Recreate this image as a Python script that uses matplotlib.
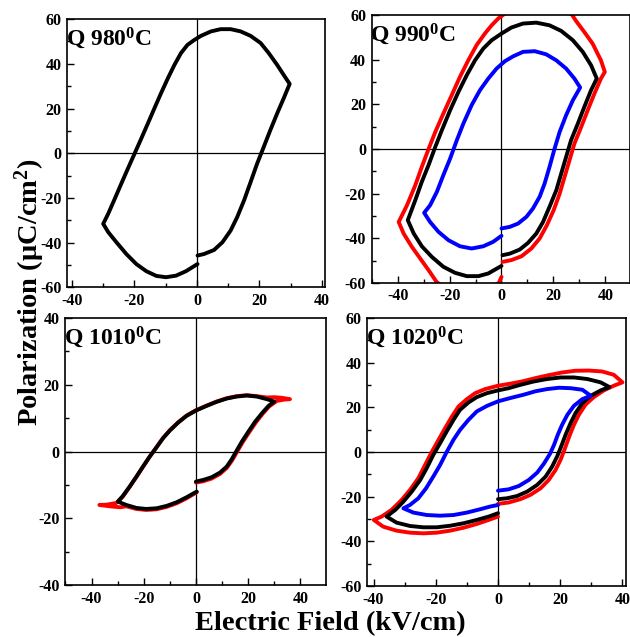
import numpy as np
import matplotlib
matplotlib.use("Agg")
import matplotlib.pyplot as plt
from matplotlib.ticker import MultipleLocator

plt.rcParams['font.family'] = ['Liberation Serif', 'DejaVu Serif']
plt.rcParams['font.weight'] = 'bold'
plt.rcParams['mathtext.fontset'] = 'custom'
plt.rcParams['mathtext.rm'] = 'Liberation Serif:bold'
plt.rcParams['mathtext.it'] = 'Liberation Serif:bold'
plt.rcParams['mathtext.bf'] = 'Liberation Serif:bold'
plt.rcParams['axes.unicode_minus'] = False

# Q 980 C - eine Schleife (E in kV/cm, P in uC/cm2)
e980 = [0.2, 2.3, 5.5, 8.2, 10.8, 12.9, 15.1, 17.2, 19.3, 21.4, 23.5, 25.7, 27.8, 29.7,
        27.8, 25.7, 23, 20.4, 17.2, 14, 10.8, 7.6, 4.5, 1.3, -0.8, -3, -5.1, -7.2, -9.3, -11.5,
        -13.6, -15.7, -17.8, -19.9, -22.1, -24.2, -26.3, -28.4, -30,
        -28.4, -25.8, -22.6, -19.4, -16.2, -13, -9.9, -6.7, -3.5, 0.2]
p980 = [-45.8, -45.1, -43.3, -39.8, -34.6, -28.6, -21.1, -12.9, -4.6, 2.8, 10.3, 17.8, 24.6, 31,
        35, 39.5, 44.8, 49.3, 52.5, 54.5, 55.5, 55.5, 54.5, 52.5, 50.7, 48.5, 44.8, 39.5, 33.5, 26.8,
        20.1, 13.3, 6.6, 0, -6.9, -13.6, -20.4, -27.1, -31.6,
        -35.3, -39.8, -45.1, -49.6, -52.8, -54.9, -55.5, -54.8, -52.8, -49.6]

# Q 990 C - drei Schleifen
e990_k = [0.4, 3.2, 7, 10.2, 13.4, 16, 18.5, 21.1, 23, 24.9, 26.8, 29.4, 31.9, 34.5, 36.7,
          34.5, 31.3, 27.5, 23, 18.5, 13.4, 8.3, 3.8, 0, -3.8, -7, -10.2, -13.4, -16.6, -19.8,
          -23, -25.5, -28.1, -30.7, -33.2, -36.1,
          -33.8, -30.7, -26.8, -22.4, -17.9, -13.4, -8.9, -5.1, 0]
p990_k = [-47.6, -46.9, -45.1, -42.1, -37.9, -32.7, -25.9, -18.5, -11, -3.5, 4, 11.4, 18.9, 26.4, 31.6,
          37.6, 43.6, 48.8, 53, 55.5, 56.7, 56.3, 54.5, 51.8, 48.8, 45.1, 39.8, 33.1, 25.6, 17.4,
          8.4, 1, -7.2, -14.7, -22.9, -31.9,
          -37.9, -43.6, -48.4, -52.8, -55.5, -57, -57, -55.8, -52.4]
e990_r = [0.4, 3.8, 7.7, 11.5, 14.7, 17.5, 20.1, 22.4, 24.3, 26.2, 28.1, 30.7, 33.2, 35.8, 38.3, 39.8,
          38.3, 35.1, 31.9, 28.7, 27, 22, 16, 10, 5, 1, -1.3, -3.8, -6.4, -9.6, -12.8, -16, -19.2,
          -22.4, -25.5, -28.1, -30.7, -33.2, -36.4, -39.6,
          -37.7, -34.5, -31.3, -28.1, -25, -21, -15, -9, -4, -1, 0]
p990_r = [-50.6, -49.8, -48.1, -44.6, -40.1, -34.1, -27.4, -20, -12.5, -5, 2.5, 9.9, 17.4, 24.9, 31.6, 34.6,
          39.8, 47.3, 52.5, 57.5, 60.5, 63, 64.5, 64.5, 63, 60.5, 58.5, 55.5, 51.8, 46.6, 39.8, 32.4, 24.1,
          15.9, 7.7, 0, -8, -16.2, -25.2, -32.7,
          -37.9, -43.9, -49.1, -54.3, -59.6, -63, -65, -64.5, -62, -60, -57.3]
e990_b = [0, 3.2, 6.4, 9.6, 12.1, 14.7, 16.6, 18.5, 20.4, 22.4, 24.9, 27.5, 30.3,
          28.1, 24.9, 21.1, 17.2, 12.8, 8.3, 4.5, 1.3, -1.9, -5.1, -8.3, -11.5, -14.7, -17.2,
          -19.8, -22.4, -24.9, -27.5, -29.8,
          -27.5, -24.3, -20.4, -16, -11.5, -7, -3.2, 0]
p990_b = [-35.6, -34.9, -33.4, -30.4, -26.7, -21.4, -15.5, -8, 0, 7.7, 15.2, 21.9, 27.6,
          31.6, 36.1, 39.8, 42.5, 43.9, 43.6, 41.6, 39.4, 36.1, 31.6, 26.4, 19.7, 11.4, 4,
          -4.3, -11.7, -19.2, -25.2, -28.6,
          -32.7, -37.1, -40.9, -43.6, -44.6, -43.6, -41.6, -38.9]

# Q 1010 C - zwei Schleifen
e1010_k = [0, 2.8, 6, 9.2, 11.8, 13.7, 15.6, 17.6, 20.1, 22.7, 25.3, 27.8, 30,
           27.2, 23.3, 19.5, 15.6, 11.8, 7.9, 4.1, 0, -3.6, -6.8, -10, -12.6, -15.1, -17.7,
           -20.3, -22.8, -25.4, -28, -29.9,
           -26.7, -22.8, -19, -15.1, -11.3, -7.4, -3.6, 0.3]
p1010_k = [-9, -8.5, -7.7, -6.3, -4.5, -2.3, 0.3, 3, 6, 9, 11.5, 13.7, 15,
           15.7, 16.5, 16.8, 16.5, 15.9, 14.9, 13.7, 12.3, 10.7, 8.7, 6.3, 4, 1.3, -1.5,
           -4.5, -7.5, -10.5, -13.3, -15,
           -16, -16.9, -17.2, -17, -16.3, -15.2, -13.7, -12]
e1010_r = [0, 2.8, 6, 9.2, 11.8, 13.8, 15.8, 17.8, 20.3, 22.9, 25.5, 28, 31, 34, 36,
           33, 30, 27.2, 23.3, 19.5, 15.6, 11.8, 7.9, 4.1, 0, -3.6, -6.8, -10, -12.6, -15.1, -17.7,
           -20.3, -22.8, -25.4, -28, -30.5, -34, -37,
           -33, -29, -26.7, -22.8, -19, -15.1, -11.3, -7.4, -3.6, 0.3]
p1010_r = [-9.3, -8.9, -8.1, -6.7, -4.9, -2.7, 0, 2.7, 5.7, 8.7, 11.3, 13.5, 15.2, 15.6, 15.7,
           16.1, 16.3, 16.2, 16.6, 16.9, 16.6, 16, 15, 13.8, 12.4, 10.8, 8.8, 6.4, 4.1, 1.3, -1.5,
           -4.6, -7.6, -10.6, -13.5, -15.4, -15.9, -16,
           -16.4, -16.7, -16.4, -17.2, -17.5, -17.3, -16.6, -15.5, -14, -12.2]

# Q 1020 C - drei Schleifen
e1020_k = [0, 2.9, 6.1, 9.4, 12.6, 15.3, 17.4, 19, 20.3, 21.7, 23.3, 24.9, 27.1, 29.8, 33, 35.8,
           33, 28.7, 24.4, 20.1, 15.8, 11.5, 7.2, 3.4, 0, -3.5, -6.8, -9.5, -12.2, -14.3, -16.5,
           -18.6, -20.8, -22.9, -25, -27.7, -30.4, -33, -35.8,
           -32.6, -28.3, -24, -19.7, -15.4, -11.1, -6.8, -3, 0]
p1020_k = [-21.1, -20.7, -19.7, -17.7, -14.7, -11, -6.5, -2, 2.5, 7.7, 12.9, 17.4, 21.9, 25.2, 27.6, 29.1,
           31.2, 32.7, 33.4, 33.4, 32.7, 31.6, 30.1, 28.6, 27.6, 26.4, 24.6, 22.2, 18.9, 14.4, 9.2,
           4, -1.3, -7.2, -12.5, -17.7, -22.2, -25.9, -28.9,
           -31.6, -33.1, -33.7, -33.7, -33, -31.9, -30.4, -28.9, -27.4]
e1020_r = [0, 3.4, 7.2, 10.4, 13.7, 16.3, 18.5, 20.1, 21.5, 22.9, 24.4, 26, 28.1, 30.8, 34, 37.2, 40,
           37.2, 33.4, 29.1, 24.8, 20.5, 16.2, 12, 7.7, 3.9, 0, -4.1, -7.3, -10, -12.7, -14.8, -17,
           -19.1, -21.3, -23.4, -25.6, -28.3, -31, -34.2, -37.4, -39.9,
           -36.9, -32.6, -28.3, -24, -19.7, -15.4, -11.1, -6.8, -3, 0]
p1020_r = [-23.2, -22.6, -21.1, -19.2, -16.2, -12.5, -8, -3.5, 1.6, 7, 12.2, 16.7, 21.2, 24.6, 27.6, 29.7, 31.2,
           34.6, 36.1, 36.5, 36.4, 35.6, 34.4, 33.1, 31.6, 30.6, 29.7, 28.2, 26.4, 23.7, 20.4, 15.9, 10.7,
           5.5, 0, -5.7, -11.7, -17, -21.5, -25.9, -28.9, -30.4,
           -33.4, -35.2, -36.1, -36.4, -36.1, -35.2, -33.9, -32.2, -30.4, -28.9]
e1020_b = [0, 3.4, 6.7, 9.9, 12.6, 14.7, 16.7, 18, 19.2, 20.6, 22.3, 24.4, 27.1, 29.8,
           27.1, 23.3, 19.6, 15.8, 12, 8.3, 4, 0, -3.5, -6.8, -9.5, -12.2, -14.3, -16.5,
           -18.6, -20.8, -23.1, -25.6, -28.3, -30.4,
           -27.2, -22.9, -18.6, -14.3, -10, -5.7, -2.5, 0]
p1020_b = [-17.3, -16.7, -15.2, -12.5, -9.2, -5.3, -0.8, 3.2, 7.7, 12.2, 16.7, 20.7, 23.7, 25.2,
           27.9, 28.6, 28.8, 28.2, 27.2, 25.7, 24.2, 22.7, 20.7, 18.2, 14.4, 9.9, 5.5, 0,
           -5.8, -11, -16.2, -20.7, -23.7, -25.2,
           -27.1, -28.2, -28.5, -28.2, -27.1, -25.6, -24.4, -23.7]

fig = plt.figure(figsize=(6.3, 6.37), dpi=100)

panels = [
    ([0.1063, 0.549, 0.4095, 0.421], (-41.6, 41), (-60, 60), 'Q 980$^{0}$C',
     [(e980, p980, 'black')]),
    ([0.590, 0.556, 0.410, 0.420], (-50, 49.5), (-60, 60), 'Q 990$^{0}$C',
     [(e990_r, p990_r, 'red'), (e990_k, p990_k, 'black'), (e990_b, p990_b, 'blue')]),
    ([0.103, 0.0816, 0.414, 0.419], (-50.2, 49.7), (-40, 40), 'Q 1010$^{0}$C',
     [(e1010_r, p1010_r, 'red'), (e1010_k, p1010_k, 'black')]),
    ([0.5825, 0.080, 0.411, 0.4207], (-42.1, 41.1), (-60, 60), 'Q 1020$^{0}$C',
     [(e1020_r, p1020_r, 'red'), (e1020_k, p1020_k, 'black'), (e1020_b, p1020_b, 'blue')]),
]

for pos, xl, yl, title, curves in panels:
    ax = fig.add_axes(pos)
    ax.axhline(0, color='black', lw=0.9, zorder=1)
    ax.axvline(0, color='black', lw=0.9, zorder=1)
    for e, p, c in curves:
        ax.plot(e, p, color=c, lw=2.8, solid_joinstyle='round', solid_capstyle='round', zorder=2)
    ax.set_xlim(xl)
    ax.set_ylim(yl)
    ax.xaxis.set_major_locator(MultipleLocator(20))
    ax.xaxis.set_minor_locator(MultipleLocator(10))
    ax.yaxis.set_major_locator(MultipleLocator(20))
    ax.yaxis.set_minor_locator(MultipleLocator(10))
    ax.tick_params(which='both', direction='in', top=False, right=False, labelsize=11.5, width=1)
    ax.tick_params(which='major', length=5, pad=4)
    ax.tick_params(which='minor', length=3)
    for s in ax.spines.values():
        s.set_linewidth(1.2)
    for lab in ax.get_xticklabels() + ax.get_yticklabels():
        lab.set_fontweight('bold')
    ax.text(-0.005, 0.975, title, transform=ax.transAxes, ha='left', va='top', fontsize=17,
            fontweight='bold')

fig.text(0.047, 0.541, 'Polarization (μC/cm$^{2}$)', rotation=90, ha='center', va='center',
         fontsize=20.5, fontweight='bold')
fig.text(0.524, 0.002, 'Electric Field (kV/cm)', ha='center', va='bottom',
         fontsize=20.5, fontweight='bold')

plt.savefig('out.png', dpi=100)
